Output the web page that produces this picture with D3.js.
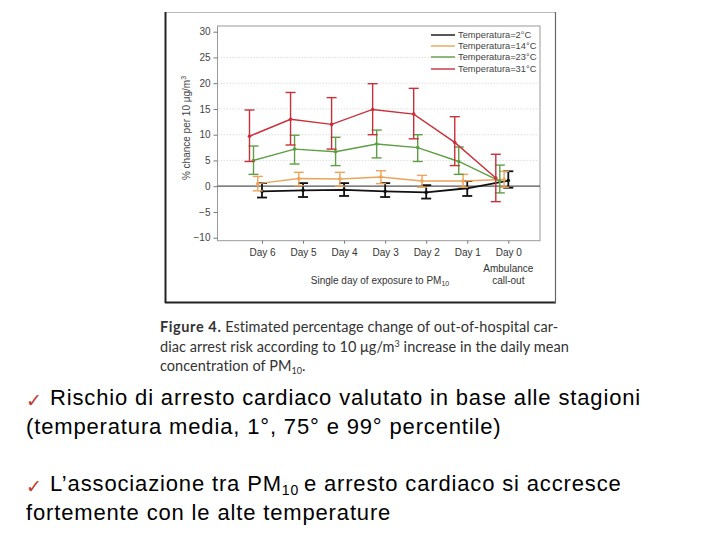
<!DOCTYPE html>
<html><head><meta charset="utf-8">
<script src="https://cdn.jsdelivr.net/npm/d3@7"></script>
<style>html,body{margin:0;padding:0;background:#fff;}svg{display:block;}</style>
</head><body>
<svg id="c" width="720" height="540"></svg>
<script>
const days = ["Day 6","Day 5","Day 4","Day 3","Day 2","Day 1","Day 0"];
const seriesNames = ["Temperatura=2°C","Temperatura=14°C","Temperatura=23°C","Temperatura=31°C"];
const seriesColors = ["#111111","#eba45a","#5e9e44","#c9303a"];
const est2  = [-1.0,-0.8,-0.7,-1.0,-1.2,-0.4,1.1];
const lo2   = [-2.2,-2.1,-1.9,-2.1,-2.4,-1.9,-0.3];
const hi2   = [0.6,0.6,0.6,0.6,0.2,1.0,2.9];
const est14 = [0.5,1.5,1.4,1.8,1.0,1.0,1.3];
const lo14  = [-0.9,0.1,0.0,0.5,-0.2,-0.2,-0.2];
const hi14  = [1.9,2.7,2.7,3.0,2.1,2.3,2.9];
const est23 = [5.0,7.2,6.7,8.2,7.5,4.8,1.0];
const lo23  = [2.3,4.3,4.0,5.5,4.8,2.3,-1.3];
const hi23  = [7.8,9.9,9.5,10.9,10.0,7.6,4.1];
const est31 = [9.7,13.0,12.0,14.9,14.0,8.5,1.6];
const lo31  = [4.8,8.0,7.2,10.0,9.2,4.0,-3.0];
const hi31  = [14.8,18.2,17.2,19.9,19.0,13.5,6.2];
const yTicks = [30,25,20,15,10,5,0,-5,-10];

const series = [
  {name:seriesNames[0], color:seriesColors[0], est:est2,  lo:lo2,  hi:hi2,  off:0,    w:1.8},
  {name:seriesNames[1], color:seriesColors[1], est:est14, lo:lo14, hi:hi14, off:-4.2, w:1.4},
  {name:seriesNames[2], color:seriesColors[2], est:est23, lo:lo23, hi:hi23, off:-8.5, w:1.4},
  {name:seriesNames[3], color:seriesColors[3], est:est31, lo:lo31, hi:hi31, off:-12.5,w:1.4}
];

const svg = d3.select("#c");
svg.append("rect").attr("width",720).attr("height",540).attr("fill","#fff");

// figure frame
svg.append("rect").attr("x",165.5).attr("y",12.5).attr("width",390).attr("height",290)
  .attr("fill","none").attr("stroke","#bbb").attr("stroke-width",1);
svg.append("line").attr("x1",165.5).attr("x2",165.5).attr("y1",12).attr("y2",303).attr("stroke","#222").attr("stroke-width",2);
svg.append("line").attr("x1",165).attr("x2",556).attr("y1",302.5).attr("y2",302.5).attr("stroke","#222").attr("stroke-width",2);
svg.append("line").attr("x1",555.5).attr("x2",555.5).attr("y1",12).attr("y2",303).attr("stroke","#666").attr("stroke-width",1.2);

const pL = 217.5, pR = 540, pT = 26, pB = 240.7;
const x = d3.scalePoint().domain(days).range([262, 508.3]);
const y = d3.scaleLinear().domain([-10,30]).range([237.7, 31.7]);

// plot box
svg.append("rect").attr("x",pL).attr("y",pT).attr("width",pR-pL).attr("height",pB-pT)
  .attr("fill","none").attr("stroke","#999").attr("stroke-width",1);

// gridlines
svg.append("g").selectAll("line").data(yTicks.filter(d=>d>0 && d<30)).join("line")
  .attr("x1",pL).attr("x2",pR).attr("y1",d=>y(d)).attr("y2",d=>y(d))
  .attr("stroke","#d8d8d8").attr("stroke-width",0.8).attr("stroke-dasharray","1.5,1.5");
// zero line
svg.append("line").attr("x1",pL).attr("x2",pR).attr("y1",y(0)).attr("y2",y(0))
  .attr("stroke","#555").attr("stroke-width",1.2);

const ff = "Liberation Sans, Arial, sans-serif";
// y axis
const yAxis = d3.axisLeft(y).tickValues(yTicks).tickSize(4).tickPadding(3)
  .tickFormat(d=> d<0 ? "\u2212"+Math.abs(d) : d);
const gy = svg.append("g").attr("transform",`translate(${pL},0)`).call(yAxis);
gy.select(".domain").remove();
gy.selectAll(".tick line").attr("stroke","#777");
gy.selectAll("text").attr("font-family",ff).attr("font-size",10).attr("fill","#444");

// x axis
const xAxis = d3.axisBottom(x).tickSize(3).tickPadding(5);
const gx = svg.append("g").attr("transform",`translate(0,${pB})`).call(xAxis);
gx.select(".domain").remove();
gx.selectAll(".tick line").attr("stroke","#777");
gx.selectAll("text").attr("font-family",ff).attr("font-size",10).attr("fill","#333");

svg.append("text").attr("x",x("Day 0")).attr("y",272).attr("text-anchor","middle")
  .attr("font-family",ff).attr("font-size",10).attr("fill","#333").text("Ambulance");
svg.append("text").attr("x",x("Day 0")).attr("y",284).attr("text-anchor","middle")
  .attr("font-family",ff).attr("font-size",10).attr("fill","#333").text("call-out");
const xt = svg.append("text").attr("x",380).attr("y",284).attr("text-anchor","middle")
  .attr("font-family",ff).attr("font-size",10).attr("fill","#333");
xt.append("tspan").text("Single day of exposure to PM");
xt.append("tspan").attr("font-size",7).attr("dy",2).text("10");

// y label
const yl = svg.append("text").attr("transform","translate(190,128) rotate(-90)").attr("text-anchor","middle")
  .attr("font-family",ff).attr("font-size",10).attr("fill","#444");
yl.append("tspan").text("% chance per 10 \u03bcg/m");
yl.append("tspan").attr("font-size",7).attr("dy",-4).text("3");

// series
const line = d3.line();
series.forEach(s=>{
  const g = svg.append("g");
  const pts = days.map((d,i)=>[x(d)+s.off, y(s.est[i])]);
  g.append("path").attr("d",line(pts)).attr("fill","none").attr("stroke",s.color).attr("stroke-width",s.w);
  days.forEach((d,i)=>{
    const cx = x(d)+s.off;
    g.append("line").attr("x1",cx).attr("x2",cx).attr("y1",y(s.lo[i])).attr("y2",y(s.hi[i]))
      .attr("stroke",s.color).attr("stroke-width",s.w);
    [s.lo[i], s.hi[i]].forEach(v=>{
      g.append("line").attr("x1",cx-5).attr("x2",cx+5).attr("y1",y(v)).attr("y2",y(v))
        .attr("stroke",s.color).attr("stroke-width",s.w);
    });
    g.append("circle").attr("cx",cx).attr("cy",y(s.est[i])).attr("r",1.8).attr("fill",s.color);
  });
});

// legend
const legY = [35,46,57,69];
series.forEach((s,i)=>{
  svg.append("line").attr("x1",431).attr("x2",455).attr("y1",legY[i]).attr("y2",legY[i])
    .attr("stroke",s.color).attr("stroke-width",1.4);
  svg.append("text").attr("x",458).attr("y",legY[i]+3.2).attr("font-family",ff).attr("font-size",9.3)
    .attr("fill","#444").text(s.name);
});

// caption
const cf = "Lato, 'Open Sans', sans-serif";
function cap(yy){ return svg.append("text").attr("x",160).attr("y",yy).attr("font-family",cf)
  .attr("font-size",14.5).attr("letter-spacing",0.05).attr("fill","#333"); }
const c1 = cap(332);
c1.append("tspan").attr("font-weight","bold").attr("letter-spacing",0.6).text("Figure 4.");
c1.append("tspan").text(" Estimated percentage change of out-of-hospital car-");
const c2 = cap(352);
c2.append("tspan").text("diac arrest risk according to 10 \u03bcg/m");
c2.append("tspan").attr("font-size",9).attr("dy",-5).text("3");
c2.append("tspan").attr("dy",5).text(" increase in the daily mean");
const c3 = cap(371);
c3.append("tspan").text("concentration of PM");
c3.append("tspan").attr("font-size",9).attr("dy",3).text("10");
c3.append("tspan").attr("dy",-3).text(".");

// bullets
const bf = "Liberation Sans, Arial, sans-serif";
function check(yy){
  svg.append("text").attr("x",26).attr("y",yy).attr("font-family","DejaVu Sans").attr("font-size",19)
    .attr("fill","#c0392b").text("\u2713");
}
function txt(xx, yy){
  return svg.append("text").attr("x",xx).attr("y",yy).attr("font-family",bf).attr("font-size",22)
    .attr("letter-spacing",0.85).attr("fill","#000");
}
check(407);
txt(50,405).text("Rischio di arresto cardiaco valutato in base alle stagioni");
txt(26,434).text("(temperatura media, 1°, 75° e 99° percentile)");
check(493);
const t3 = txt(50,491);
t3.append("tspan").text("L\u2019associazione tra PM");
t3.append("tspan").attr("font-size",14).attr("dy",4).text("10 ");
t3.append("tspan").attr("dy",-4).text("e arresto cardiaco si accresce");
txt(26,520).text("fortemente con le alte temperature");
</script>
</body></html>
